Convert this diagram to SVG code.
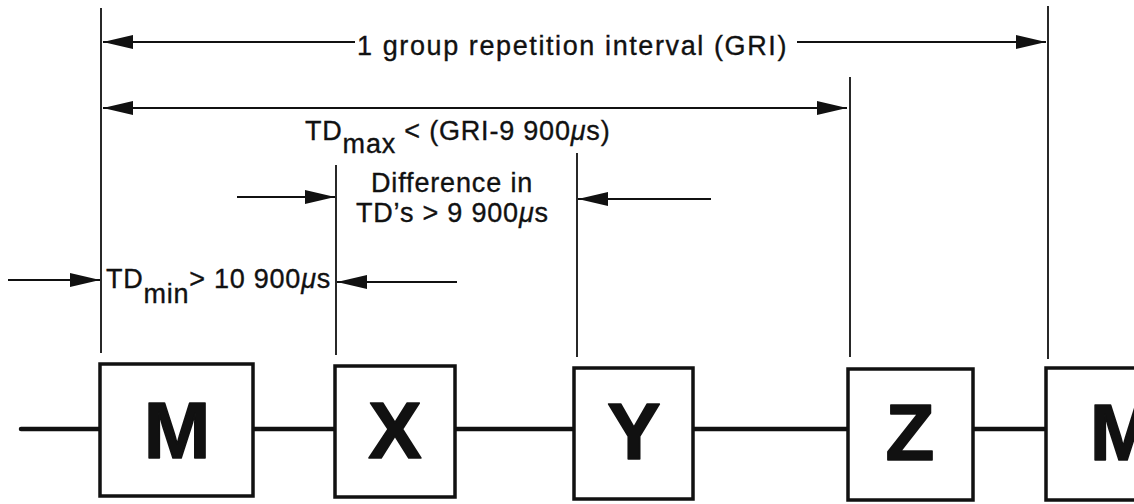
<svg xmlns="http://www.w3.org/2000/svg" width="1134" height="504" viewBox="0 0 1134 504">
  <style>
    .label { font-family: "Liberation Sans", Arial, sans-serif; font-size: 27px; fill: #111; stroke: #111; stroke-width: 0.35; }
    .box { fill: #fff; stroke: #111; stroke-width: 3.5; }
    .boxtext { font-family: "Liberation Sans", Arial, sans-serif; font-weight: bold; font-size: 80px; fill: #111; stroke: #111; stroke-width: 1.6; stroke-linejoin: round; text-anchor: middle; }
    .tick { stroke: #111; stroke-width: 1.8; fill: none; }
    .dim { stroke: #111; stroke-width: 2; fill: none; }
    .chain { stroke: #111; stroke-width: 4.5; fill: none; stroke-linecap: round; }
    .mu { font-style: italic; }
  </style>
  <defs>
    <marker id="head" viewBox="0 0 30 14" refX="30" refY="7" markerWidth="30" markerHeight="14" markerUnits="userSpaceOnUse" orient="auto-start-reverse">
      <path d="M0,0 L30,7 L0,14 z" fill="#111"/>
    </marker>
  </defs>

  <!-- connectors: chain line, extension lines and dimension arrows -->
  <g id="connectors">
    <line class="chain" x1="21" y1="429" x2="1134" y2="429"/>

    <line class="tick" x1="101" y1="8" x2="101" y2="353"/>
    <line class="tick" x1="336" y1="165" x2="336" y2="355"/>
    <line class="tick" x1="577" y1="153" x2="577" y2="357"/>
    <line class="tick" x1="850" y1="77" x2="850" y2="357"/>
    <line class="tick" x1="1048" y1="6" x2="1048" y2="359"/>

    <!-- group repetition interval -->
    <line class="dim" x1="355" y1="42" x2="103" y2="42" marker-end="url(#head)"/>
    <line class="dim" x1="797" y1="42" x2="1046" y2="42" marker-end="url(#head)"/>

    <!-- TDmax -->
    <line class="dim" x1="103" y1="108" x2="847" y2="108" marker-start="url(#head)" marker-end="url(#head)"/>

    <!-- difference in TDs -->
    <line class="dim" x1="237" y1="197" x2="335" y2="197" marker-end="url(#head)"/>
    <line class="dim" x1="711" y1="199" x2="578" y2="199" marker-end="url(#head)"/>

    <!-- TDmin -->
    <line class="dim" x1="8" y1="280" x2="100" y2="280" marker-end="url(#head)"/>
    <line class="dim" x1="457" y1="282" x2="337" y2="282" marker-end="url(#head)"/>
  </g>

  <g id="labels">
    <text class="label" x="357" y="55" letter-spacing="1.6">1 group repetition interval (GRI)</text>
    <text class="label" x="305" y="140" letter-spacing="0.8">TD<tspan dy="13">max</tspan><tspan dy="-13"> &lt; (GRI-9 900</tspan><tspan class="mu">μ</tspan>s)</text>
    <text class="label" x="371" y="192" letter-spacing="0.85">Difference in</text>
    <text class="label" x="356" y="222" letter-spacing="0.8">TD’s &gt; 9 900<tspan class="mu">μ</tspan>s</text>
    <text class="label" x="106" y="288" letter-spacing="0.75">TD<tspan dy="15">min</tspan><tspan dy="-15">&gt; 10 900</tspan><tspan class="mu">μ</tspan>s</text>
  </g>

  <g id="node-m1">
    <rect class="box" x="100" y="364" width="153" height="132"/>
    <text class="boxtext" x="177" y="458">M</text>
  </g>
  <g id="node-x">
    <rect class="box" x="335" y="366" width="120" height="131"/>
    <text class="boxtext" x="395" y="458">X</text>
  </g>
  <g id="node-y">
    <rect class="box" x="574" y="368" width="119" height="131"/>
    <text class="boxtext" x="634" y="459">Y</text>
  </g>
  <g id="node-z">
    <rect class="box" x="848" y="369" width="125" height="131"/>
    <text class="boxtext" x="910" y="460">Z</text>
  </g>
  <g id="node-m2">
    <rect class="box" x="1046" y="368" width="153" height="132"/>
    <text class="boxtext" x="1123" y="460">M</text>
  </g>
</svg>
